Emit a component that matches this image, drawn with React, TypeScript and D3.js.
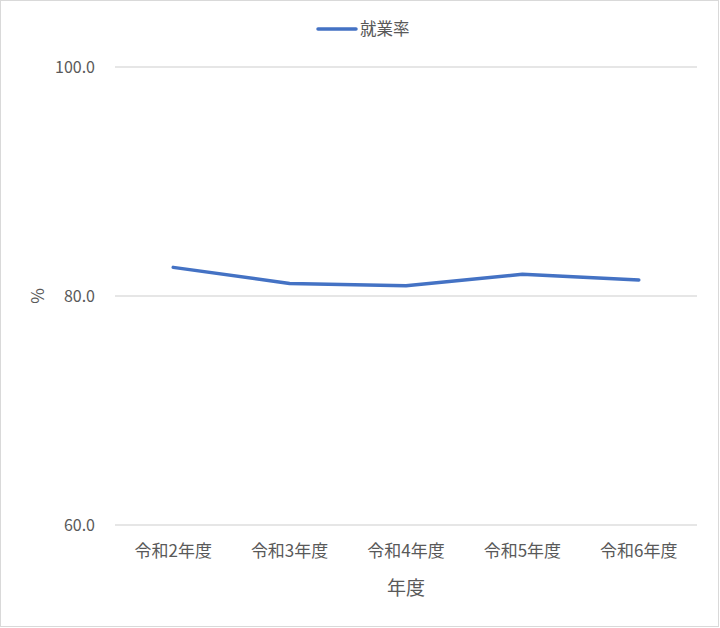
import * as d3 from 'd3';
import { useEffect, useRef } from 'react';

const categories = ['令和2年度', '令和3年度', '令和4年度', '令和5年度', '令和6年度'];
const employmentRate = [82.5, 81.1, 80.9, 81.9, 81.4];
const yTicks = [60, 80, 100];
const seriesName = '就業率';

const font = '"Noto Sans CJK JP", "Noto Sans", sans-serif';
const textColor = '#595959';
const lineColor = '#4472C4';

export default function App() {
  const svgRef = useRef<SVGSVGElement>(null);

  useEffect(() => {
    const svgEl = svgRef.current;
    if (!svgEl) return;

    const width = 720;
    const height = 628;
    const margin = { top: 67, right: 23, bottom: 103, left: 115 };

    const svg = d3.select(svgEl);
    svg.selectAll('*').remove();

    svg
      .append('rect')
      .attr('x', 0.5)
      .attr('y', 0.5)
      .attr('width', width - 2)
      .attr('height', height - 2)
      .attr('fill', '#fff')
      .attr('stroke', '#d9d9d9');

    const x = d3
      .scaleBand<string>()
      .domain(categories)
      .range([margin.left, width - margin.right]);
    const y = d3
      .scaleLinear()
      .domain([60, 100])
      .range([height - margin.bottom, margin.top]);

    // gridlines
    svg
      .append('g')
      .selectAll('line')
      .data(yTicks)
      .join('line')
      .attr('x1', margin.left)
      .attr('x2', width - margin.right)
      .attr('y1', (d) => y(d))
      .attr('y2', (d) => y(d))
      .attr('stroke', '#dedede')
      .attr('stroke-width', 1.3);

    // y tick labels
    svg
      .append('g')
      .selectAll('text')
      .data(yTicks)
      .join('text')
      .attr('x', margin.left - 20)
      .attr('y', (d) => y(d))
      .attr('dy', '0.35em')
      .attr('text-anchor', 'end')
      .attr('font-family', font)
      .attr('font-size', 16)
      .attr('fill', textColor)
      .text((d) => d.toFixed(1));

    // x tick labels
    svg
      .append('g')
      .selectAll('text')
      .data(categories)
      .join('text')
      .attr('x', (d) => x(d)! + x.bandwidth() / 2)
      .attr('y', height - margin.bottom + 26)
      .attr('dy', '0.35em')
      .attr('text-anchor', 'middle')
      .attr('font-family', font)
      .attr('font-size', 17)
      .attr('fill', textColor)
      .text((d) => d);

    // axis titles
    svg
      .append('text')
      .attr('x', (margin.left + width - margin.right) / 2)
      .attr('y', 588)
      .attr('dy', '0.35em')
      .attr('text-anchor', 'middle')
      .attr('font-family', font)
      .attr('font-size', 19)
      .attr('fill', textColor)
      .text('年度');

    svg
      .append('text')
      .attr('transform', `translate(38,${y(80)}) rotate(-90)`)
      .attr('dy', '0.35em')
      .attr('text-anchor', 'middle')
      .attr('font-family', font)
      .attr('font-size', 17)
      .attr('fill', textColor)
      .text('%');

    // series line
    const line = d3
      .line<number>()
      .x((_, i) => x(categories[i])! + x.bandwidth() / 2)
      .y((d) => y(d));

    svg
      .append('path')
      .datum(employmentRate)
      .attr('d', line)
      .attr('fill', 'none')
      .attr('stroke', lineColor)
      .attr('stroke-width', 3.5)
      .attr('stroke-linecap', 'round')
      .attr('stroke-linejoin', 'round');

    // legend
    const legend = svg.append('g').attr('transform', 'translate(318,29)');
    legend
      .append('line')
      .attr('x1', 0)
      .attr('x2', 38)
      .attr('stroke', lineColor)
      .attr('stroke-width', 3.5)
      .attr('stroke-linecap', 'round');
    legend
      .append('text')
      .attr('x', 42)
      .attr('dy', '0.35em')
      .attr('font-family', font)
      .attr('font-size', 16.5)
      .attr('fill', textColor)
      .text(seriesName);
  }, []);

  return (
    <svg
      ref={svgRef}
      width={720}
      height={628}
      style={{ position: 'absolute', left: 0, top: 0 }}
      role="img"
      aria-label="就業率の推移"
    />
  );
}
